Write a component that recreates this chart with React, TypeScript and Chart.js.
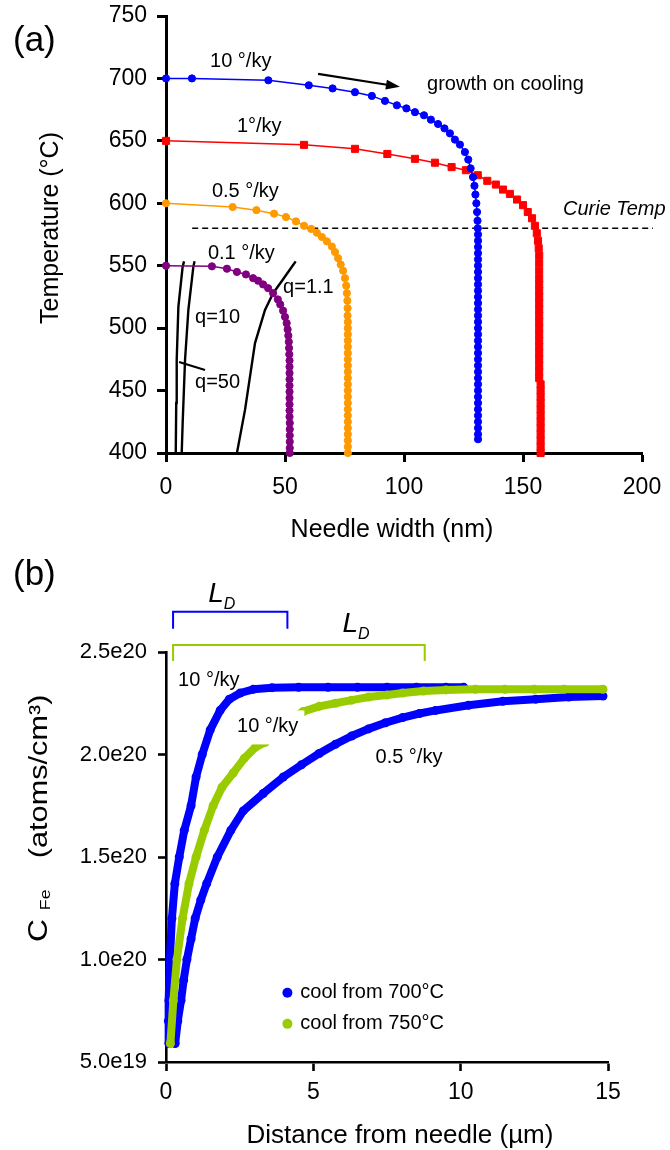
import React, { useEffect, useRef } from 'react';
import { Chart, registerables } from 'chart.js';

Chart.register(...registerables);

const FONT = "'Liberation Sans', Arial, Helvetica, sans-serif";

// ---------------- Panel (a): needle width (nm) vs temperature (°C) ----------------
const widthTicksA = [0, 50, 100, 150, 200];
const tempTicksA = [400, 450, 500, 550, 600, 650, 700, 750];

// 10 °/ky
const rate10Width = [0, 10.9, 43, 60, 70, 79.4, 86.5, 92, 97, 101, 104.6, 108.4, 111.3, 114.3, 117, 119.3, 121.4, 123.5, 125.6, 127, 128, 129, 129.6, 130, 130.4, 130.7, 130.9, 131,
  131.1, 131.1, 131.1, 131.1, 131.1, 131.1, 131.1, 131.1, 131.1, 131.1, 131.1, 131.1, 131.1, 131.1, 131.1, 131.1, 131.1, 131.1, 131.1, 131.1, 131.1, 131.1, 131.1, 131.1, 131.1, 131.1, 131.1, 131.1, 131.1, 131.1, 131.1, 131.1, 131.1, 131.1];
const rate10Temp = [700, 700, 698.5, 694.5, 692, 689, 686, 682, 678.5, 676, 673, 670.5, 667, 663.5, 660, 656, 651, 647, 641, 635, 628, 621, 614, 607, 600, 593, 586, 580,
  575, 570, 565, 560, 555, 550, 545, 540, 535, 530, 525, 520, 515, 510, 505, 500, 495, 490, 485, 480, 475, 470, 465, 460, 455, 450, 445, 440, 435, 430, 425, 420, 415, 411];

// 1 °/ky
const rate1Width = [0, 58, 79.4, 93, 104.6, 113, 120, 126, 131, 135, 138.6, 141.6, 144.5, 147.5, 150, 152, 153.8, 155, 155.8, 156.3, 156.6, 156.8, 156.8, 156.8, 156.8,
  156.8, 156.8, 156.8, 156.8, 156.8, 156.8, 156.8, 156.8, 156.8, 156.8, 156.8, 156.8, 156.8, 156.8, 156.8, 156.8,
  157.4, 157.4, 157.4, 157.4, 157.4, 157.4, 157.4, 157.4, 157.4, 157.4, 157.4, 157.4];
const rate1Temp = [650, 646.8, 643.6, 639.5, 635.6, 632.5, 629, 626.5, 622.5, 618, 615, 611, 607.5, 603, 598.5, 593, 588, 582, 576, 570, 564, 558, 552, 546, 540,
  535, 530, 525, 520, 515, 510, 505, 500, 495, 490, 485, 480, 475, 470, 465, 460,
  455, 450, 445, 440, 435, 430, 425, 420, 415, 410, 405, 400];

// 0.5 °/ky
const rate05Width = [0, 28, 38, 45.4, 50.4, 54.6, 58, 61, 63.4, 65.5, 67.6, 69.7, 71, 72.3, 73.4, 74.4, 75.2, 75.7, 76, 76.2, 76.3, 76.3,
  76.4, 76.4, 76.4, 76.4, 76.4, 76.4, 76.4, 76.4, 76.4, 76.4, 76.4, 76.4, 76.4, 76.4, 76.4, 76.4, 76.4, 76.4, 76.4, 76.4, 76.4, 76.4];
const rate05Temp = [600, 597, 594.5, 591.7, 589, 585.5, 582, 579.5, 576.4, 573, 569.5, 565.4, 561, 556, 551, 546, 540, 534, 528, 522, 516, 510,
  505, 500, 495, 490, 485, 480, 475, 470, 465, 460, 455, 450, 445, 440, 435, 430, 425, 420, 415, 410, 405, 400];

// 0.1 °/ky
const rate01Width = [0, 19.3, 25.6, 29.8, 33.6, 36.6, 38.7, 40.8, 42.9, 45, 47, 48, 49.2, 50, 50.7, 51.1, 51.4, 51.6, 51.7, 51.8,
  51.9, 51.9, 51.9, 51.9, 51.9, 51.9, 51.9, 51.9, 51.9, 51.9, 52, 52, 52, 52, 52, 52];
const rate01Temp = [550, 549.5, 547.6, 545, 543, 540, 538, 535, 532, 528, 523, 519, 514, 509, 504, 499, 494, 489, 484, 479,
  474, 469, 464, 459, 454, 449, 444, 439, 434, 429, 424, 419, 414, 409, 404, 400];

// model curves q = 50, 10, 1.1
const q50Width = [4.1, 4.3, 4.5, 5.2, 7.0, 7.6];
const q50Temp = [400, 440, 474.5, 517, 549.3, 553.5];
const q10Width = [6.6, 7.0, 8.0, 9.4, 11.5, 12.0];
const q10Temp = [400, 424, 474.5, 514.6, 549.3, 553.5];
const q11Width = [29.8, 33.2, 37.4, 41.6, 45, 49.5, 53.4, 54.5];
const q11Temp = [400, 434.5, 488, 514.6, 528, 540, 550.6, 553.5];

const curieTemp = 580;
const curieFrom = 11;
const curieTo = 204.6;

// ---------------- Panel (b): distance (µm) vs C_Fe (atoms/cm³) ----------------
const distTicksB = [0, 5, 10, 15];
const concTickValues = [0.5e20, 1.0e20, 1.5e20, 2.0e20, 2.5e20];
const concTickLabels = ['5.0e19', '1.0e20', '1.5e20', '2.0e20', '2.5e20'];

// 10 °/ky, cool from 700 °C
const fast700Dist = [0.1, 0.08, 0.1, 0.13, 0.2, 0.3, 0.45, 0.62, 0.85, 1.02, 1.23, 1.5, 1.84, 2.15, 2.52, 2.96, 3.6, 4.5, 5.5, 6.5, 7.5, 8.5, 9.5, 10.1];
const fast700Conc = [0.59e20, 0.7e20, 0.8e20, 1.0e20, 1.2e20, 1.37e20, 1.5e20, 1.63e20, 1.75e20, 1.89e20, 2.0e20, 2.12e20, 2.216e20, 2.27e20, 2.3e20, 2.318e20, 2.326e20, 2.328e20, 2.328e20, 2.328e20, 2.328e20, 2.328e20, 2.328e20, 2.328e20];

// 0.5 °/ky, cool from 700 °C
const slow700Dist = [0.31, 0.4, 0.51, 0.6, 0.71, 0.85, 0.99, 1.18, 1.38, 1.74, 2.2, 2.62, 3.3, 3.98, 4.6, 5.2, 5.75, 6.3, 6.87, 7.45, 8.03, 8.6, 9.15, 10.27, 11.43, 12.55, 13.67, 14.83];
const slow700Conc = [0.59e20, 0.7e20, 0.8e20, 0.9e20, 1.0e20, 1.1e20, 1.2e20, 1.29e20, 1.37e20, 1.5e20, 1.63e20, 1.725e20, 1.81e20, 1.89e20, 1.95e20, 2.005e20, 2.05e20, 2.09e20, 2.125e20, 2.155e20, 2.18e20, 2.2e20, 2.215e20, 2.24e20, 2.26e20, 2.27e20, 2.28e20, 2.285e20];

// 10 °/ky, cool from 750 °C
const fast750Dist = [0.15, 0.25, 0.37, 0.56, 0.78, 1.02, 1.3, 1.6, 1.9, 2.28, 2.65, 3.03, 3.37, 3.8, 4.2, 4.66, 5.2, 5.75, 6.3, 6.87, 7.5, 8.03, 8.74, 9.5, 10.5, 11.5, 12.5, 13.5, 14.83];
const fast750Conc = [0.59e20, 0.8e20, 1.0e20, 1.2e20, 1.37e20, 1.5e20, 1.63e20, 1.75e20, 1.84e20, 1.91e20, 1.98e20, 2.035e20, 2.06e20, 2.12e20, 2.17e20, 2.21e20, 2.235e20, 2.25e20, 2.265e20, 2.28e20, 2.29e20, 2.3e20, 2.31e20, 2.315e20, 2.318e20, 2.318e20, 2.318e20, 2.318e20, 2.318e20];

const BLUE = '#0000ff';
const RED = '#ff0000';
const ORANGE = '#ff9900';
const PURPLE = '#800080';
const GREEN = '#99cc00';

function pts(xs: number[], ys: number[]) {
  return xs.map((x, i) => ({ x, y: ys[i] }));
}

type Seg = { t: string; size: number; dy?: number; style?: string };

function setFont(ctx: CanvasRenderingContext2D, s: Seg) {
  ctx.font = `${s.style ? s.style + ' ' : ''}${s.size}px ${FONT}`;
}

function drawSegs(ctx: CanvasRenderingContext2D, segs: Seg[], x: number, y: number, align: 'left' | 'center') {
  let total = 0;
  for (const s of segs) { setFont(ctx, s); total += ctx.measureText(s.t).width; }
  let cx = align === 'center' ? x - total / 2 : x;
  ctx.textAlign = 'left';
  ctx.textBaseline = 'alphabetic';
  for (const s of segs) {
    setFont(ctx, s);
    ctx.fillText(s.t, cx, y + (s.dy || 0));
    cx += ctx.measureText(s.t).width;
  }
  return total;
}

function label(ctx: CanvasRenderingContext2D, text: string, x: number, y: number, size = 20, style = '') {
  ctx.font = `${style ? style + ' ' : ''}${size}px ${FONT}`;
  ctx.textAlign = 'left';
  ctx.textBaseline = 'middle';
  ctx.fillStyle = '#000';
  ctx.fillText(text, x, y);
}

const panelAPlugin = {
  id: 'panelA',
  beforeDatasetsDraw(chart: any) {
    const { ctx } = chart;
    const X = (v: number) => chart.scales.x.getPixelForValue(v);
    const Y = (v: number) => chart.scales.y.getPixelForValue(v);
    ctx.save();
    ctx.strokeStyle = '#000';
    ctx.lineWidth = 1.6;
    ctx.setLineDash([6, 4]);
    ctx.beginPath();
    ctx.moveTo(X(curieFrom), Y(curieTemp));
    ctx.lineTo(X(curieTo), Y(curieTemp));
    ctx.stroke();
    ctx.restore();
  },
  afterDatasetsDraw(chart: any) {
    const { ctx } = chart;
    const X = (v: number) => chart.scales.x.getPixelForValue(v);
    const Y = (v: number) => chart.scales.y.getPixelForValue(v);
    ctx.save();
    // arrow "growth on cooling"
    const x0 = X(63.9), y0 = Y(703.7), x1 = X(98.3), y1 = Y(693.3);
    const ang = Math.atan2(y1 - y0, x1 - x0);
    ctx.strokeStyle = '#000';
    ctx.fillStyle = '#000';
    ctx.lineWidth = 2.2;
    ctx.beginPath();
    ctx.moveTo(x0, y0);
    ctx.lineTo(x1 - 10 * Math.cos(ang), y1 - 10 * Math.sin(ang));
    ctx.stroke();
    ctx.beginPath();
    ctx.moveTo(x1, y1);
    ctx.lineTo(x1 - 14 * Math.cos(ang) + 5 * Math.sin(ang), y1 - 14 * Math.sin(ang) - 5 * Math.cos(ang));
    ctx.lineTo(x1 - 14 * Math.cos(ang) - 5 * Math.sin(ang), y1 - 14 * Math.sin(ang) + 5 * Math.cos(ang));
    ctx.closePath();
    ctx.fill();
    // pointer to q=50 curve
    ctx.lineWidth = 2;
    ctx.beginPath();
    ctx.moveTo(X(5.5), Y(472.9));
    ctx.lineTo(X(16.4), Y(466.5));
    ctx.stroke();
    // labels
    label(ctx, '10 °/ky', X(18.5), Y(713.3));
    label(ctx, '1°/ky', X(29.8), Y(661.2));
    label(ctx, '0.5 °/ky', X(19.3), Y(609.1));
    label(ctx, '0.1 °/ky', X(17.6), Y(559.5));
    label(ctx, 'growth on cooling', X(109.7), Y(694.9));
    label(ctx, 'Curie Temp', X(166.8), Y(594.7), 20, 'italic');
    label(ctx, 'q=10', X(12.2), Y(508.2));
    label(ctx, 'q=50', X(12.2), Y(456.1));
    label(ctx, 'q=1.1', X(49.2), Y(532.2));
    ctx.restore();
  },
  afterDraw(chart: any) {
    const { ctx } = chart;
    ctx.save();
    ctx.fillStyle = '#000';
    drawSegs(ctx, [{ t: '(a)', size: 35 }], 13, 51, 'left');
    drawSegs(ctx, [{ t: 'Needle width (nm)', size: 25 }], 392, 537, 'center');
    ctx.translate(58, 228);
    ctx.rotate(-Math.PI / 2);
    drawSegs(ctx, [{ t: 'Temperature (°C)', size: 25 }], 0, 0, 'center');
    ctx.restore();
  },
};

const panelBPlugin = {
  id: 'panelB',
  afterDatasetsDraw(chart: any) {
    const { ctx } = chart;
    const X = (v: number) => chart.scales.x.getPixelForValue(v);
    const Y = (v: number) => chart.scales.y.getPixelForValue(v);
    ctx.save();
    // L_D brackets
    const bracket = (a: number, b: number, top: number, bot: number, color: string) => {
      ctx.strokeStyle = color;
      ctx.lineWidth = 2;
      ctx.beginPath();
      ctx.moveTo(X(a), Y(bot));
      ctx.lineTo(X(a), Y(top));
      ctx.lineTo(X(b), Y(top));
      ctx.lineTo(X(b), Y(bot));
      ctx.stroke();
    };
    bracket(0.24, 4.12, 2.696e20, 2.613e20, BLUE);
    bracket(0.24, 8.78, 2.534e20, 2.456e20, GREEN);
    ctx.fillStyle = '#000';
    drawSegs(ctx, [{ t: 'L', size: 28, style: 'italic' }, { t: 'D', size: 16, style: 'italic', dy: 7 }], X(1.43), Y(2.745e20), 'left');
    drawSegs(ctx, [{ t: 'L', size: 28, style: 'italic' }, { t: 'D', size: 16, style: 'italic', dy: 7 }], X(5.99), Y(2.598e20), 'left');
    // curve labels
    label(ctx, '10 °/ky', X(0.41), Y(2.36e20));
    ctx.font = `20px ${FONT}`;
    const midText = '10 °/ky';
    const mw = ctx.measureText(midText).width;
    const mx = X(2.41), my = Y(2.137e20);
    ctx.fillStyle = '#fff';
    ctx.fillRect(mx - 5, my - 16, mw + 11, 34);
    label(ctx, midText, mx, my);
    label(ctx, '0.5 °/ky', X(7.11), Y(1.985e20));
    // legend
    const legend = [
      { color: BLUE, text: 'cool from 700°C', y: 0.838e20 },
      { color: GREEN, text: 'cool from 750°C', y: 0.686e20 },
    ];
    for (const item of legend) {
      ctx.fillStyle = item.color;
      ctx.beginPath();
      ctx.arc(X(4.12), Y(item.y), 5, 0, Math.PI * 2);
      ctx.fill();
      label(ctx, item.text, X(4.56), Y(item.y));
    }
    ctx.restore();
  },
  afterDraw(chart: any) {
    const { ctx } = chart;
    ctx.save();
    ctx.fillStyle = '#000';
    drawSegs(ctx, [{ t: '(b)', size: 35 }], 13, 35, 'left');
    drawSegs(ctx, [{ t: 'Distance from needle (µm)', size: 26 }], 400, 593, 'center');
    // y title: C_Fe (atoms/cm³)
    ctx.translate(47, 392);
    ctx.rotate(-Math.PI / 2);
    ctx.scale(1.18, 1);
    ctx.textAlign = 'left';
    ctx.textBaseline = 'alphabetic';
    ctx.font = `27px ${FONT}`;
    ctx.fillText('C', 0, 0);
    ctx.font = `15px ${FONT}`;
    ctx.fillText('Fe', 27, 3);
    ctx.font = `26px ${FONT}`;
    ctx.fillText('(atoms/cm³)', 71, 0);
    ctx.restore();
  },
};

function axisCommon(tickLength: number, lineW: number) {
  return {
    border: { display: true, color: '#000', width: lineW },
    grid: { display: true, drawOnChartArea: false, drawTicks: true, tickLength, tickWidth: lineW, tickColor: '#000', color: '#000' },
  };
}

function fixY(width: number) {
  return (s: any) => { s.width = width; s.paddingTop = 0; s.paddingBottom = 0; };
}
function fixX(height: number) {
  return (s: any) => { s.height = height; s.paddingLeft = 0; s.paddingRight = 0; };
}

export default function App() {
  const refA = useRef<HTMLCanvasElement>(null);
  const refB = useRef<HTMLCanvasElement>(null);

  useEffect(() => {
    const lineA = (data: any, color: string, style: string, radius: number) => ({
      data,
      borderColor: color,
      backgroundColor: color,
      borderWidth: 1.5,
      pointStyle: style,
      pointRadius: radius,
      pointBorderWidth: 1,
      pointBorderColor: color,
      pointBackgroundColor: color,
      showLine: true,
      tension: 0,
      clip: false,
    });
    const modelA = (data: any) => ({
      data,
      borderColor: '#000',
      borderWidth: 2.4,
      pointRadius: 0,
      showLine: true,
      tension: 0,
    });

    const chartA = new Chart(refA.current as HTMLCanvasElement, {
      type: 'scatter',
      data: {
        datasets: [
          lineA(pts(rate10Width, rate10Temp), BLUE, 'circle', 3.6),
          lineA(pts(rate1Width, rate1Temp), RED, 'rect', 5),
          lineA(pts(rate05Width, rate05Temp), ORANGE, 'circle', 3.6),
          lineA(pts(rate01Width, rate01Temp), PURPLE, 'circle', 3.6),
          modelA(pts(q50Width, q50Temp)),
          modelA(pts(q10Width, q10Temp)),
          modelA(pts(q11Width, q11Temp)),
        ] as any,
      },
      options: {
        animation: false,
        responsive: false,
        maintainAspectRatio: false,
        devicePixelRatio: 1,
        events: [],
        layout: { padding: { left: 0, right: 28, top: 16, bottom: 0 } },
        plugins: { legend: { display: false }, tooltip: { enabled: false } },
        scales: {
          x: {
            type: 'linear',
            min: 0,
            max: 200,
            afterBuildTicks: (s: any) => { s.ticks = widthTicksA.map((v) => ({ value: v })); },
            afterFit: fixX(97),
            ticks: { color: '#000', font: { family: FONT, size: 23 }, padding: 12 },
            ...axisCommon(9, 3),
          },
          y: {
            type: 'linear',
            min: 400,
            max: 750,
            afterBuildTicks: (s: any) => { s.ticks = tempTicksA.map((v) => ({ value: v })); },
            afterFit: fixY(166),
            ticks: { color: '#000', font: { family: FONT, size: 23 }, padding: 10 },
            ...axisCommon(9, 3),
          },
        },
      } as any,
      plugins: [panelAPlugin],
    });

    const lineB = (data: any, color: string) => ({
      data,
      borderColor: color,
      backgroundColor: color,
      borderWidth: 8,
      borderJoinStyle: 'round',
      borderCapStyle: 'round',
      pointStyle: 'circle',
      pointRadius: 4.5,
      pointBorderWidth: 0,
      pointBackgroundColor: color,
      showLine: true,
      tension: 0,
      clip: false,
    });

    const chartB = new Chart(refB.current as HTMLCanvasElement, {
      type: 'scatter',
      data: {
        datasets: [
          lineB(pts(fast750Dist, fast750Conc), GREEN),
          lineB(pts(fast700Dist, fast700Conc), BLUE),
          lineB(pts(slow700Dist, slow700Conc), BLUE),
        ] as any,
      },
      options: {
        animation: false,
        responsive: false,
        maintainAspectRatio: false,
        devicePixelRatio: 1,
        events: [],
        layout: { padding: { left: 0, right: 62, top: 102, bottom: 0 } },
        plugins: { legend: { display: false }, tooltip: { enabled: false } },
        scales: {
          x: {
            type: 'linear',
            min: 0,
            max: 15,
            afterBuildTicks: (s: any) => { s.ticks = distTicksB.map((v) => ({ value: v })); },
            afterFit: fixX(88),
            ticks: { color: '#000', font: { family: FONT, size: 23 }, padding: 8 },
            ...axisCommon(9, 2.6),
          },
          y: {
            type: 'linear',
            min: 0.5e20,
            max: 2.5e20,
            afterBuildTicks: (s: any) => { s.ticks = concTickValues.map((v) => ({ value: v })); },
            afterFit: fixY(166),
            ticks: {
              color: '#000',
              font: { family: FONT, size: 22 },
              padding: 11,
              callback: (_v: any, i: number) => concTickLabels[i],
            },
            ...axisCommon(8, 2.6),
          },
        },
      } as any,
      plugins: [panelBPlugin],
    });

    return () => {
      chartA.destroy();
      chartB.destroy();
    };
  }, []);

  return (
    <div style={{ position: 'absolute', left: 0, top: 0, width: 670, height: 1150, background: '#fff' }}>
      <canvas ref={refA} width={670} height={550} style={{ position: 'absolute', left: 0, top: 0, width: 670, height: 550 }} />
      <canvas ref={refB} width={670} height={600} style={{ position: 'absolute', left: 0, top: 550, width: 670, height: 600 }} />
    </div>
  );
}
